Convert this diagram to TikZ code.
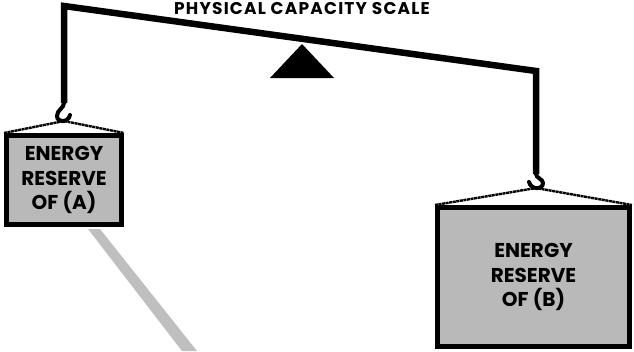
\documentclass[tikz,border=0pt]{standalone}
\usepackage{fontspec}
\setmainfont{Poppins}
\tikzset{
    beamline/.style={line width=6.5pt, line join=miter},
    hookline/.style={line width=4pt, line cap=round},
    chainline/.style={line width=2.4pt, dash pattern=on 3pt off 0.6pt},
    reservebox/.style={draw, line width=5pt, fill=gray!55, align=center,
        font=\fontsize{20}{24.5}\selectfont\bfseries, inner sep=0pt},
}
\begin{document}
\begin{tikzpicture}[x=1pt, y=-1pt]
\useasboundingbox (0,0) rectangle (634,351);

% ========= 标题 =========
\node[font=\fontsize{17}{18}\selectfont\bfseries\addfontfeature{LetterSpace=7}]
    (title) at (302,8.5) {PHYSICAL CAPACITY SCALE};

% ========= 斜向阴影带 =========
\fill[gray!50] (88,229) -- (100,229) -- (197,351) -- (182,351) -- cycle;

% ========= 秤杆 =========
\coordinate (hookA) at (64,103);
\coordinate (hookB) at (536,174);
\draw[beamline] (hookA) -- (64,6) -- (536,71) -- (hookB);

% 支点三角形
\fill (302,44) -- (334,78) -- (270,78) -- cycle;

% ========= 钩子 =========
\draw[hookline] (hookA) .. controls (64,108) and (57,110) .. (57,116)
    .. controls (57,123) and (68,123) .. (70,115);
\draw[hookline] (hookB) .. controls (536,178) and (543,179) .. (543,183)
    .. controls (543,190) and (531,190) .. (529,182);
\coordinate (ringA) at (64,121);
\coordinate (ringB) at (536,188);

% ========= 能量储备框 =========
\node[reservebox, minimum width=115pt, minimum height=89pt] (boxA) at (64,180)
    {ENERGY\\RESERVE\\OF (A)};
\node[reservebox, minimum width=192pt, minimum height=139pt] (boxB) at (533.5,277)
    {ENERGY\\RESERVE\\OF (B)};

% ========= 链条 =========
\draw[chainline] (boxA.north west) -- (ringA) -- (boxA.north east);
\draw[chainline] (boxB.north west) -- (ringB) -- (boxB.north east);
\end{tikzpicture}
\end{document}
